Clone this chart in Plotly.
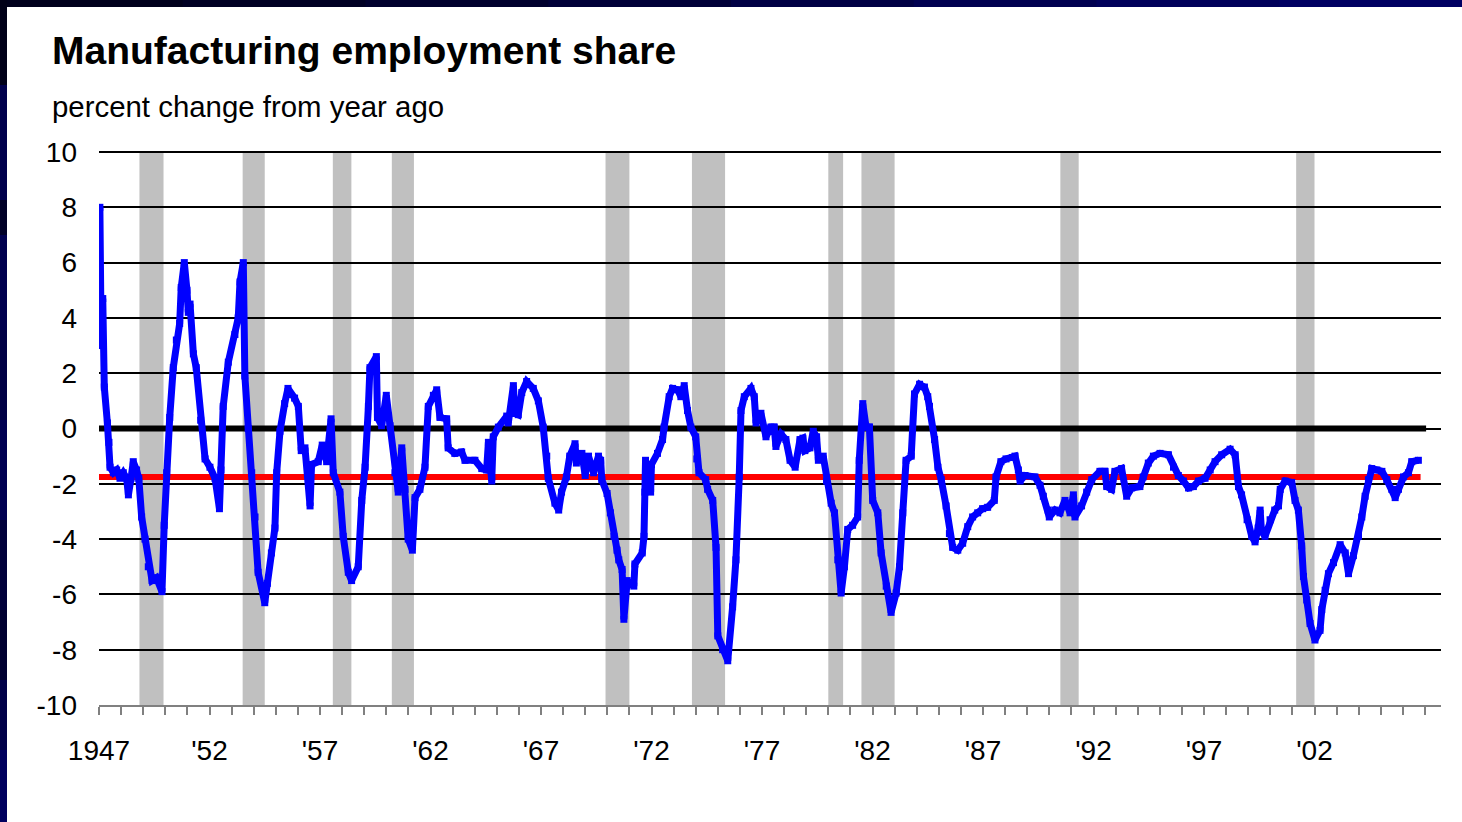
import plotly.graph_objects as go

# ---------------- data ----------------
years = [
    1947.04, 1947.10, 1947.17, 1947.24, 1947.38, 1947.45, 1947.50, 1947.65, 1947.80, 1947.95,
    1948.10, 1948.25, 1948.33, 1948.45, 1948.55, 1948.70, 1948.80, 1948.93, 1949.08, 1949.23,
    1949.40, 1949.60, 1949.85, 1949.95, 1950.06, 1950.20, 1950.36, 1950.50, 1950.65, 1950.72,
    1950.86, 1950.98, 1951.04, 1951.12, 1951.27, 1951.40, 1951.60, 1951.80, 1952.02, 1952.25,
    1952.45, 1952.52, 1952.62, 1952.85, 1953.15, 1953.30, 1953.38, 1953.53, 1953.60, 1953.75,
    1953.91, 1954.06, 1954.20, 1954.50, 1954.62, 1954.80, 1954.96, 1955.04, 1955.19, 1955.40,
    1955.55, 1955.85, 1956.02, 1956.15, 1956.32, 1956.55, 1956.62, 1956.92, 1957.10, 1957.30,
    1957.50, 1957.60, 1957.90, 1958.05, 1958.28, 1958.43, 1958.73, 1958.89, 1959.04, 1959.19,
    1959.26, 1959.55, 1959.60, 1959.79, 1960.00, 1960.17, 1960.39, 1960.54, 1960.70, 1960.85,
    1960.99, 1961.18, 1961.30, 1961.52, 1961.75, 1961.90, 1962.13, 1962.28, 1962.43, 1962.73,
    1962.80, 1963.10, 1963.41, 1963.56, 1964.01, 1964.32, 1964.54, 1964.62, 1964.77, 1964.84,
    1965.07, 1965.45, 1965.52, 1965.75, 1965.82, 1965.97, 1966.13, 1966.35, 1966.65, 1966.88,
    1967.10, 1967.26, 1967.33, 1967.63, 1967.80, 1967.93, 1968.15, 1968.30, 1968.54, 1968.60,
    1968.85, 1969.00, 1969.15, 1969.38, 1969.60, 1969.70, 1969.75, 1969.99, 1970.14, 1970.30,
    1970.44, 1970.52, 1970.67, 1970.75, 1970.90, 1971.20, 1971.25, 1971.58, 1971.66, 1971.70,
    1971.73, 1971.96, 1972.00, 1972.27, 1972.50, 1972.57, 1972.80, 1972.95, 1973.18, 1973.33,
    1973.48, 1973.63, 1973.78, 1974.00, 1974.05, 1974.15, 1974.45, 1974.54, 1974.77, 1974.92,
    1975.00, 1975.22, 1975.45, 1975.67, 1975.82, 1975.97, 1976.05, 1976.20, 1976.50, 1976.65,
    1976.73, 1976.95, 1977.18, 1977.40, 1977.55, 1977.63, 1977.86, 1978.08, 1978.27, 1978.50,
    1978.72, 1978.85, 1978.94, 1979.17, 1979.32, 1979.47, 1979.55, 1979.77, 1979.92, 1980.13,
    1980.28, 1980.43, 1980.58, 1980.73, 1980.88, 1981.10, 1981.33, 1981.40, 1981.56, 1981.71,
    1981.86, 1982.01, 1982.24, 1982.39, 1982.62, 1982.84, 1983.07, 1983.22, 1983.37, 1983.52,
    1983.75, 1983.90, 1984.13, 1984.35, 1984.50, 1984.58, 1984.81, 1984.96, 1985.11, 1985.33,
    1985.48, 1985.63, 1985.86, 1986.08, 1986.31, 1986.53, 1986.76, 1986.98, 1987.21, 1987.51,
    1987.59, 1987.81, 1988.04, 1988.34, 1988.45, 1988.60, 1988.68, 1988.90, 1989.35, 1989.58,
    1989.73, 1989.95, 1990.00, 1990.26, 1990.48, 1990.71, 1990.94, 1991.09, 1991.16, 1991.46,
    1991.69, 1991.92, 1992.29, 1992.52, 1992.60, 1992.82, 1992.97, 1993.27, 1993.50, 1993.73,
    1994.10, 1994.25, 1994.48, 1994.71, 1995.01, 1995.39, 1995.62, 1995.84, 1996.07, 1996.30,
    1996.52, 1996.75, 1997.05, 1997.28, 1997.50, 1997.80, 1998.18, 1998.41, 1998.56, 1998.70,
    1998.95, 1999.16, 1999.31, 1999.45, 1999.54, 1999.60, 1999.76, 1999.99, 2000.20, 2000.37,
    2000.45, 2000.67, 2000.97, 2001.12, 2001.27, 2001.42, 2001.50, 2001.65, 2001.80, 2002.02,
    2002.25, 2002.33, 2002.48, 2002.63, 2002.86, 2003.16, 2003.39, 2003.54, 2003.76, 2003.99,
    2004.14, 2004.29, 2004.44, 2004.59, 2004.82, 2005.05, 2005.27, 2005.50, 2005.65, 2005.80,
    2006.03, 2006.25, 2006.40, 2006.70,
]
share_change = [
    8.0, 3.0, 4.7, 1.5, 0.2, -0.5, -1.4, -1.6, -1.5, -1.8,
    -1.6, -1.8, -2.4, -1.8, -1.2, -1.5, -1.8, -3.2, -4.0, -5.0,
    -5.5, -5.4, -5.9, -3.5, -1.6, 0.4, 2.2, 3.2, 3.8, 5.1,
    6.0, 5.0, 4.2, 4.5, 2.7, 2.2, 0.3, -1.1, -1.4, -1.8,
    -2.9, -1.5, 0.8, 2.4, 3.4, 4.0, 5.3, 6.0, 1.9, 0.0,
    -1.6, -3.2, -5.2, -6.3, -5.6, -4.5, -3.6, -1.6, -0.1, 0.9,
    1.45, 1.1, 0.8, -0.8, -0.7, -2.8, -1.3, -1.2, -0.6, -1.2,
    0.35, -1.6, -2.3, -3.9, -5.2, -5.5, -5.0, -2.6, -1.4, 0.8,
    2.2, 2.6, 0.4, 0.1, 1.2, 0.1, -1.6, -2.3, -0.7, -2.2,
    -4.0, -4.4, -2.5, -2.2, -1.4, 0.8, 1.2, 1.4, 0.4, 0.35,
    -0.7, -0.9, -0.85, -1.15, -1.15, -1.45, -1.5, -0.5, -1.9, -0.3,
    0.05, 0.45, 0.2, 1.55, 0.55, 0.5, 1.3, 1.7, 1.45, 1.0,
    0.05, -1.0, -1.8, -2.7, -2.95, -2.3, -1.75, -1.0, -0.55, -1.25,
    -0.9, -1.7, -1.0, -1.6, -1.0, -1.15, -1.85, -2.35, -3.05, -3.9,
    -4.4, -4.75, -5.1, -6.9, -5.5, -5.7, -4.9, -4.5, -3.9, -2.3,
    -1.15, -2.3, -1.3, -0.9, -0.4, 0.05, 1.15, 1.45, 1.4, 1.15,
    1.55, 0.65, 0.05, -0.3, -1.1, -1.6, -1.85, -2.2, -2.6, -4.3,
    -7.5, -8.0, -8.4, -6.45, -4.75, -1.75, 0.65, 1.15, 1.45, 1.15,
    0.2, 0.55, -0.3, 0.05, 0.05, -0.65, -0.2, -0.4, -1.15, -1.4,
    -0.4, -0.35, -0.8, -0.7, -0.1, -0.3, -1.15, -1.0, -1.9, -2.7,
    -3.05, -4.75, -5.95, -5.0, -3.65, -3.5, -3.2, -1.15, 0.9, 0.05,
    0.05, -2.6, -3.05, -4.5, -5.7, -6.65, -5.95, -5.0, -3.05, -1.15,
    -1.0, 1.25, 1.6, 1.5, 1.15, 0.8, -0.4, -1.4, -1.85, -2.8,
    -3.8, -4.3, -4.4, -4.15, -3.55, -3.2, -3.05, -2.9, -2.85, -2.6,
    -1.75, -1.2, -1.1, -1.05, -1.0, -1.5, -1.9, -1.7, -1.75, -2.05,
    -2.45, -2.95, -3.2, -2.95, -3.05, -2.6, -3.05, -2.4, -3.2, -2.8,
    -2.3, -1.85, -1.55, -1.55, -2.1, -2.2, -1.55, -1.45, -2.45, -2.15,
    -2.1, -1.75, -1.25, -1.0, -0.9, -0.95, -1.4, -1.7, -1.9, -2.15,
    -2.1, -1.9, -1.8, -1.5, -1.2, -0.95, -0.75, -0.95, -2.1, -2.4,
    -3.3, -3.9, -4.1, -3.6, -2.95, -3.7, -3.9, -3.3, -2.95, -2.8,
    -2.2, -1.9, -1.95, -2.6, -2.95, -4.25, -5.35, -6.2, -7.05, -7.65,
    -7.3, -6.55, -5.85, -5.25, -4.85, -4.2, -4.5, -5.25, -4.6, -3.9,
    -3.2, -2.45, -1.85, -1.45, -1.5, -1.55, -1.85, -2.2, -2.5, -2.2,
    -1.75, -1.6, -1.2, -1.15,
]

average_years = [1947.0, 2006.8]
average_value = [-1.75, -1.75]
zero_years = [1947.0, 2007.05]
zero_value = [0, 0]

recession_start = [1948.83, 1953.50, 1957.58, 1960.25, 1969.92, 1973.83, 1980.00, 1981.50, 1990.50, 2001.17]
recession_end = [1949.92, 1954.50, 1958.42, 1961.25, 1971.00, 1975.33, 1980.67, 1983.00, 1991.33, 2002.00]

tick_years = list(range(1947, 2008))
label_years = [1947, 1952, 1957, 1962, 1967, 1972, 1977, 1982, 1987, 1992, 1997, 2002]
label_text = ["1947", "'52", "'57", "'62", "'67", "'72", "'77", "'82", "'87", "'92", "'97", "'02"]
y_ticks = [-10, -8, -6, -4, -2, 0, 2, 4, 6, 8, 10]
y_labels = ["-10", "-8", "-6", "-4", "-2", "0", "2", "4", "6", "8", "10"]

title_text = "Manufacturing employment share"
subtitle_text = "percent change from year ago"

# ---------------- layout geometry ----------------
W, H = 1462, 822
L, R, T, B = 99, 21, 152, 117
PW, PH = W - L - R, H - T - B


def px_x(px):
    return (px - L) / PW


def px_y(py):
    return (H - B - py) / PH


FONT = "Liberation Sans, Arial, sans-serif"

fig = go.Figure()

fig.add_trace(go.Scatter(x=zero_years, y=zero_value, mode="lines",
                         line=dict(color="#000000", width=6), hoverinfo="skip",
                         showlegend=False))
fig.add_trace(go.Scatter(x=average_years, y=average_value, mode="lines",
                         line=dict(color="#FF0000", width=6), hoverinfo="skip",
                         showlegend=False))
fig.add_trace(go.Scatter(x=years, y=share_change, mode="lines+markers",
                         line=dict(color="#0000FF", width=7),
                         marker=dict(symbol="square", size=7, color="#0000FF"),
                         showlegend=False))

shapes = []
for s, e in zip(recession_start, recession_end):
    shapes.append(dict(type="rect", xref="x", yref="paper", x0=s, x1=e, y0=0, y1=1,
                       fillcolor="#C0C0C0", line=dict(width=0), layer="below"))

# top gridline at the upper range edge (plotly leaves it out)
shapes.append(dict(type="line", xref="paper", yref="paper", x0=0, x1=1, y0=1, y1=1,
                   line=dict(color="#000000", width=2), layer="above"))

# slide frame: navy band along top and left edges
top_cols = ["#00001c", "#000024", "#00002e", "#000038", "#000044", "#000050", "#00005a", "#000062"]
n = len(top_cols)
for i, c in enumerate(top_cols):
    shapes.append(dict(type="rect", xref="paper", yref="paper",
                       x0=px_x(i * W / n), x1=px_x((i + 1) * W / n + 1),
                       y0=px_y(7), y1=px_y(0), fillcolor=c, line=dict(width=0), layer="above"))
left_bands = [(0, 85, "#000018"), (85, 200, "#00004c"), (200, 235, "#000026"),
              (235, 330, "#00004e"), (330, 420, "#000044"), (420, 520, "#000052"),
              (520, 610, "#00003a"), (610, 680, "#000030"), (680, 750, "#000048"),
              (750, 822, "#00005e")]
for y0, y1, c in left_bands:
    shapes.append(dict(type="rect", xref="paper", yref="paper",
                       x0=px_x(0), x1=px_x(7), y0=px_y(y1), y1=px_y(y0),
                       fillcolor=c, line=dict(width=0), layer="above"))

annotations = [
    dict(text="<b>" + title_text + "</b>", xref="paper", yref="paper", x=px_x(50), y=px_y(50),
         xanchor="left", yanchor="middle", showarrow=False,
         font=dict(family=FONT, size=39, color="#000000")),
    dict(text=subtitle_text, xref="paper", yref="paper", x=px_x(50), y=px_y(107),
         xanchor="left", yanchor="middle", showarrow=False,
         font=dict(family=FONT, size=29.4, color="#000000")),
]

fig.update_layout(
    width=W, height=H,
    margin=dict(l=L, r=R, t=T, b=B, pad=0),
    paper_bgcolor="#FFFFFF", plot_bgcolor="rgba(0,0,0,0)",
    shapes=shapes, annotations=annotations,
    font=dict(family=FONT, color="#000000"),
    hovermode=False,
)
fig.update_xaxes(
    range=[1947, 1947 + PW / 22.1], showgrid=False, zeroline=False,
    showline=True, linecolor="#808080", linewidth=2,
    ticks="outside", ticklen=8, tickwidth=1.5, tickcolor="#808080",
    tickvals=tick_years,
    ticktext=[label_text[label_years.index(y)] if y in label_years else "" for y in tick_years],
    tickfont=dict(family=FONT, size=28, color="#000000"),
    ticklabelstandoff=11, automargin=False,
)
fig.update_yaxes(
    range=[-10, 10], tickvals=y_ticks, ticktext=y_labels,
    showgrid=True, gridcolor="#000000", gridwidth=2,
    zeroline=False, showline=False, ticks="",
    tickfont=dict(family=FONT, size=28, color="#000000"),
    ticklabelstandoff=21, automargin=False,
)

fig.write_html("out.html", config={"displayModeBar": False},
               post_script="document.body.style.margin='0';document.body.style.overflow='hidden';")
